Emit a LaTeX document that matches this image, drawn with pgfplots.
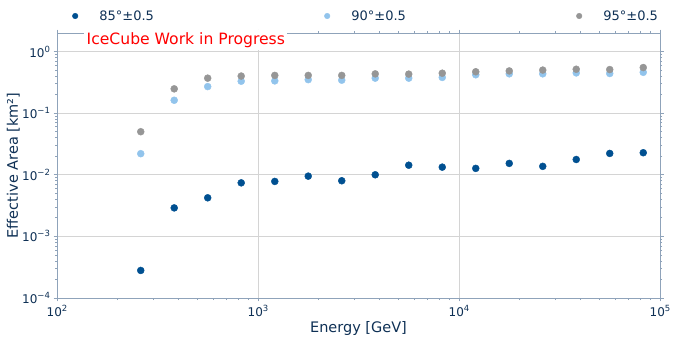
\documentclass[border=0pt]{standalone}
\usepackage{fontspec}
\setmainfont{DejaVu Sans}
\usepackage{pgfplots}
\pgfplotsset{compat=1.18}
\usepackage{pgfplotstable}

\definecolor{c85}{RGB}{0,80,145}
\definecolor{c90}{RGB}{146,196,236}
\definecolor{c95}{RGB}{150,150,150}
\definecolor{txt}{RGB}{14,48,85}
\definecolor{spine}{RGB}{143,163,186}
\definecolor{gridc}{RGB}{212,212,212}

\newcommand{\pw}[1]{10\raisebox{0.42em}{\fontsize{8.5bp}{9bp}\selectfont #1}}

% energy [GeV], effective area [km^2]
\pgfplotstableread{
E      a85      a90     a95
261    2.8e-4   0.022   0.050
383    2.9e-3   0.162   0.248
562    4.23e-3  0.27    0.37
825    7.4e-3   0.33    0.40
1212   7.8e-3   0.334   0.41
1778   9.5e-3   0.35    0.41
2610   8.0e-3   0.343   0.41
3831   1.0e-2   0.37    0.434
5623   1.43e-2  0.37    0.43
8254   1.33e-2  0.38    0.445
12115  1.27e-2  0.42    0.47
17783  1.53e-2  0.435   0.485
26102  1.37e-2  0.435   0.50
38312  1.77e-2  0.45    0.516
56234  2.22e-2  0.44    0.51
82540  2.28e-2  0.46    0.55
}\effarea

\begin{document}
\begin{tikzpicture}
\useasboundingbox (-57bp,-41bp) rectangle (621bp,298bp);
\begin{axis}[
  name=ax,
  at={(0,0)}, anchor=south west,
  scale only axis,
  width=603bp, height=265bp,
  xmode=log, ymode=log,
  xmin=100, xmax=100000,
  ymin=1e-4, ymax=2,
  xtick={100,1000,10000,100000},
  xticklabels={\pw{2},\pw{3},\pw{4},\pw{5}},
  ytick={1e-4,1e-3,1e-2,1e-1,1},
  yticklabels={\pw{−4},\pw{−3},\pw{−2},\pw{−1},\pw{0}},
  tick label style={font=\fontsize{12bp}{14bp}\selectfont, text=txt},
  label style={font=\fontsize{14.5bp}{17bp}\selectfont, text=txt},
  xlabel={Energy [GeV]},
  ylabel={Effective Area [km²]},
  xlabel style={yshift=2bp},
  ylabel style={yshift=-4.5bp},
  grid=major,
  major grid style={gridc, line width=0.8bp},
  axis line style={spine, line width=0.9bp},
  tick style={spine, line width=0.8bp},
  tick align=outside,
  major tick length=3.5bp,
  minor tick length=2bp,
  legend columns=3,
  legend style={draw=none, fill=none, inner sep=0pt, outer sep=0pt,
    at={(rel axis cs:0,1)}, anchor=west, xshift=15.4bp, yshift=17bp,
    font=\fontsize{13bp}{15bp}\selectfont, text=txt,
    nodes={inner sep=0pt, text width=225bp, align=left},
    /tikz/every odd column/.append style={column sep=21.4bp}},
  legend image code/.code={\draw[#1, mark size=2.8bp] plot coordinates {(0bp,0bp)};},
]
\addplot[only marks, mark=*, mark size=3.5bp, mark options={draw=c85, fill=c85}] table[x=E, y=a85] {\effarea};
\addlegendentry{85°±0.5}
\addplot[only marks, mark=*, mark size=3.5bp, mark options={draw=c90, fill=c90}] table[x=E, y=a90] {\effarea};
\addlegendentry{90°±0.5}
\addplot[only marks, mark=*, mark size=3.5bp, mark options={draw=c95, fill=c95}] table[x=E, y=a95] {\effarea};
\addlegendentry{95°±0.5}
\end{axis}
\node[fill=white, inner sep=2.5bp, anchor=west, text=red,
  font=\fontsize{15.6bp}{18bp}\selectfont] at ([xshift=27bp, yshift=-7bp]ax.north west) {IceCube Work in Progress};
\end{tikzpicture}
\end{document}
